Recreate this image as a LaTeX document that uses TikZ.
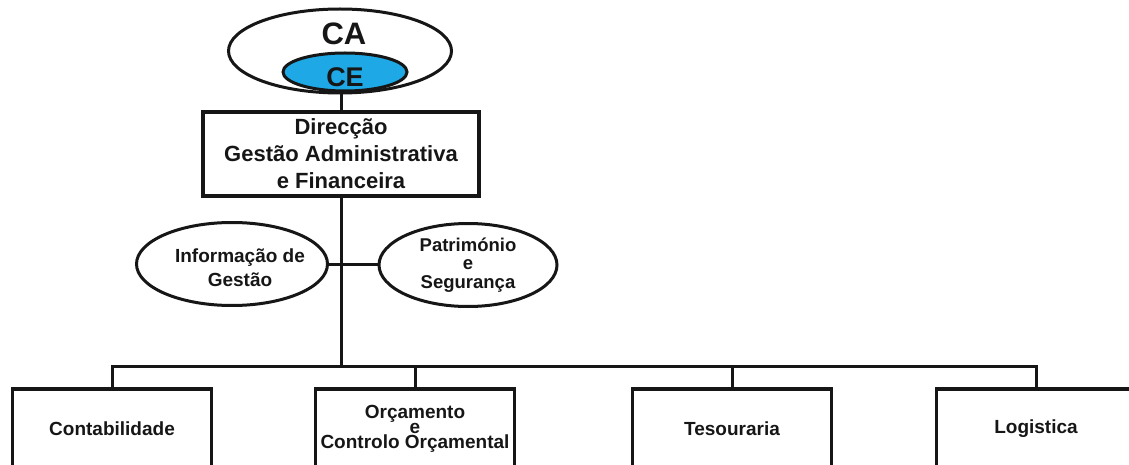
\documentclass[tikz,border=0pt]{standalone}
\usepackage{fontspec}
\setmainfont{Liberation Sans}
\usetikzlibrary{shapes.geometric}
\definecolor{ceblue}{RGB}{30,168,230}
\definecolor{ink}{RGB}{22,22,22}
\begin{document}
\begin{tikzpicture}[x=1pt,y=-1pt,
  unit/.style={draw=ink, line width=3.5pt, rectangle, inner sep=0pt,
    align=center, text=ink, minimum width=199pt, minimum height=80pt,
    font=\bfseries\fontsize{19}{15}\selectfont},
  oval/.style={draw=ink, line width=3pt, ellipse, inner sep=0pt,
    align=center, text=ink},
  label/.style={text=ink, inner sep=0pt, align=center},
  link/.style={draw=ink, line width=3pt}]
\clip (0,0) rectangle (1129,465);

% board and executive committee
\node[oval, minimum width=223pt, minimum height=84pt] (ca) at (340,51) {};
\node[label, font=\bfseries\fontsize{31}{32}\selectfont] (calabel) at (344,34) {CA};
\node[oval, fill=ceblue, minimum width=124pt, minimum height=38pt] (ce) at (345,72) {};
\node[label, font=\bfseries\fontsize{27}{28}\selectfont] (celabel) at (345,77) {CE};

% direction
\node[unit, minimum width=276pt, minimum height=84pt,
  font=\bfseries\fontsize{22}{27}\selectfont] (dir) at (341,154)
  {Direcção\\Gestão Administrativa\\e Financeira};

% staff units
\node[oval, minimum width=191pt, minimum height=83pt] (info) at (232,264) {};
\node[label, font=\bfseries\fontsize{19}{24}\selectfont] (infolabel) at (240,268)
  {Informação de\\Gestão};
\node[oval, minimum width=178pt, minimum height=83pt,
  font=\bfseries\fontsize{18.5}{18.5}\selectfont] (pat) at (468,265)
  {Património\\e\\Segurança};

% departments
\coordinate (bus) at (341,366);
\node[unit] (cont) at (112,429) {Contabilidade};
\node[unit] (orc) at (415,429) {Orçamento\\e\\Controlo Orçamental};
\node[unit] (tes) at (732,429) {Tesouraria};
\node[unit] (log) at (1036,429) {Logistica};

% connectors
\draw[link] (dir.north) -- (dir.north |- ce.south);
\draw[link] (dir.south) -- (dir.south |- bus);
\draw[link] (info.east) -- (pat.west |- info.east);
\draw[link] (cont.north) |- (log.north |- bus) -- (log.north);
\draw[link] (orc.north) -- (orc.north |- bus);
\draw[link] (tes.north) -- (tes.north |- bus);
\end{tikzpicture}
\end{document}
